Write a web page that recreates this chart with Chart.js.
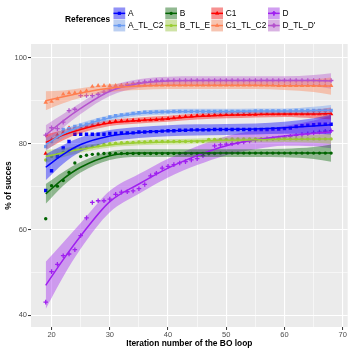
<!DOCTYPE html>
<html><head><meta charset="utf-8">
<script src="https://cdn.jsdelivr.net/npm/chart.js@4/dist/chart.umd.min.js"></script>
<style>html,body{margin:0;padding:0;background:#fff;}canvas{display:block;}</style>
</head><body>
<canvas id="c" width="353" height="353"></canvas>
<script>
// ---------- data ----------
const iterations = [19,20,21,22,23,24,25,26,27,28,29,30,31,32,33,34,35,36,37,38,39,40,41,42,43,44,45,46,47,48,49,50,51,52,53,54,55,56,57,58,59,60,61,62,63,64,65,66,67,68];
const seriesNames = ['A','A_TL_C2','B','B_TL_E','C1','C1_TL_C2','D',"D_TL_D'"];

const valA = [69.1,73.7,77.0,79.0,80.5,82.2,82.2,82.2,82.2,82.2,
              82.2,82.4,82.4,82.5,82.5,82.5,82.7,82.7,82.8,82.8,
              82.9,83.0,83.0,83.1,83.1,83.2,83.2,83.2,83.2,83.3,
              83.3,83.3,83.3,83.3,83.3,83.3,83.3,83.3,83.3,83.4,
              83.4,83.5,83.6,84.0,84.2,84.3,84.4,84.5,84.5,84.5];
const valA_TL_C2 = [79.3,80.5,81.5,83.3,83.5,84.0,84.3,84.5,85.0,85.5,
              85.8,86.2,86.5,86.7,86.8,87.0,87.2,87.3,87.3,87.4,
              87.4,87.4,87.5,87.5,87.5,87.5,87.5,87.5,87.5,87.5,
              87.5,87.5,87.5,87.5,87.5,87.5,87.6,87.6,87.6,87.6,
              87.6,87.6,87.6,87.7,87.7,87.7,87.7,87.7,87.7,87.7];
const valB = [62.5,70.2,70.1,71.4,73.3,75.5,77.0,77.3,77.5,77.6,
              77.7,77.7,77.7,77.7,77.7,77.7,77.7,77.7,77.7,77.7,
              77.7,77.7,77.7,77.7,77.7,77.7,77.7,77.7,77.7,77.7,
              77.8,77.8,77.8,77.8,77.8,77.8,77.8,77.8,77.8,77.8,
              77.8,77.8,77.8,77.8,77.8,77.8,77.8,77.8,77.8,77.8];
const valB_TL_E = [76.2,77.0,77.5,78.0,78.3,78.6,78.8,79.0,79.3,79.5,
              79.8,80.0,80.1,80.2,80.3,80.3,80.4,80.4,80.5,80.5,
              80.5,80.5,80.5,80.5,80.5,80.5,80.5,80.5,81.0,81.0,
              81.0,81.0,81.1,81.1,81.1,81.1,81.1,81.1,81.1,81.1,
              81.1,81.1,81.1,81.1,81.1,81.1,81.1,81.1,81.1,81.1];
const valC1 = [77.7,81.0,82.0,82.6,83.6,83.6,83.8,84.0,84.3,84.5,
              84.8,85.0,85.2,85.3,85.3,85.4,85.4,85.5,85.5,85.6,
              85.7,85.8,86.0,86.2,86.3,86.4,86.5,86.6,86.6,86.7,
              86.7,86.8,86.8,86.8,86.8,86.8,86.8,86.9,86.9,86.9,
              86.9,86.9,86.9,86.9,86.9,86.9,86.9,86.9,86.9,86.9];
const valC1_TL_C2 = [89.6,89.8,90.4,91.5,91.8,91.8,92.0,92.3,93.3,93.5,
              93.5,93.5,93.5,93.5,93.6,93.6,93.6,93.6,93.6,93.6,
              93.6,93.6,93.6,93.6,93.6,93.6,93.6,93.6,93.6,93.6,
              93.6,93.6,93.6,93.6,93.6,93.6,93.6,93.6,93.6,93.6,
              93.5,93.5,93.5,93.5,93.5,93.5,93.5,93.5,93.5,93.5];
const valD = [43.1,50.2,51.9,53.9,54.3,55.3,58.6,62.7,66.3,66.7,
              66.7,67.1,68.2,68.7,68.8,69.0,69.5,70.5,72.5,73.1,
              74.3,74.7,75.1,75.5,75.8,76.2,76.5,77.2,77.8,79.5,
              79.7,79.9,80.0,80.2,80.4,80.6,80.8,81.0,81.1,81.2,
              81.3,81.5,81.7,81.9,82.1,82.3,82.5,82.7,82.9,83.0];
const valD_TL_D = [82.0,83.7,83.5,85.0,87.7,88.0,91.2,91.2,91.2,91.5,
              92.0,92.5,93.0,93.5,93.8,94.0,94.2,94.4,94.5,94.7,
              94.7,94.7,94.7,94.7,94.7,94.7,94.7,94.7,94.7,94.7,
              94.7,94.7,94.7,94.7,94.7,94.7,94.7,94.7,94.7,94.7,
              94.7,94.7,94.7,94.7,94.7,94.7,94.7,94.7,94.7,94.7];

// smoothed fit at these iterations, and half-width of its band
const fitX = [19,22,25,30,35,40,45,50,55,60,65,68];
const fitA        = [74.5,77.5,79.8,81.8,82.6,83.0,83.2,83.3,83.4,83.7,84.1,84.4];
const bandA       = [3.0,2.2,1.7,1.4,1.3,1.3,1.3,1.3,1.3,1.4,1.8,2.3];
const fitA_TL_C2  = [79.8,82.3,84.0,86.0,87.0,87.4,87.5,87.5,87.6,87.6,87.7,87.8];
const bandA_TL_C2 = [1.5,1.0,0.8,0.6,0.6,0.6,0.6,0.6,0.6,0.6,0.9,1.2];
const fitB        = [68.3,71.8,74.5,77.2,77.8,77.8,77.8,77.8,77.8,77.8,77.8,77.8];
const bandB       = [2.3,1.6,1.2,1.0,0.9,0.9,0.9,0.9,0.9,1.0,1.4,2.0];
const fitB_TL_E   = [77.0,77.9,78.7,79.7,80.2,80.4,80.6,80.8,80.9,81.0,81.1,81.1];
const bandB_TL_E  = [1.5,1.0,0.8,0.6,0.6,0.6,0.6,0.6,0.6,0.6,0.9,1.2];
const fitC1       = [80.3,82.0,83.3,84.8,85.4,85.8,86.3,86.6,86.8,86.9,86.9,87.0];
const bandC1      = [1.8,1.2,0.9,0.7,0.7,0.7,0.7,0.7,0.7,0.7,1.0,1.4];
const fitC1_TL_C2 = [90.0,90.9,91.8,92.9,93.4,93.6,93.6,93.6,93.6,93.5,93.5,93.4];
const bandC1_TL_C2= [2.2,1.5,1.1,0.9,0.9,0.9,0.9,0.9,0.9,1.0,1.5,2.0];
const fitD        = [47.0,53.0,58.5,66.5,70.6,74.3,77.2,79.5,80.9,81.8,82.4,82.7];
const bandD       = [5.5,4.0,3.0,2.5,2.3,2.2,2.2,2.2,2.2,2.3,3.0,3.8];
const fitD_TL_D   = [82.0,85.3,88.2,92.2,94.0,94.6,94.7,94.7,94.7,94.7,94.7,94.6];
const bandD_TL_D  = [2.3,1.6,1.3,1.1,1.0,1.0,1.0,1.0,1.0,1.0,1.3,1.8];

const xTicks = [20,25,30,35,40,45,50,55,60,65,70];
const yTicks = [40,50,60,70,80,90,100];

// ---------- styles ----------
const styles = [
  {color:'#0000FF', rgb:'0,0,255',     shape:'rect',     r:2.4},
  {color:'#6A9CF2', rgb:'106,156,242', shape:'rect',     r:2.4},
  {color:'#006400', rgb:'0,100,0',     shape:'circle',   r:1.7},
  {color:'#9ACD32', rgb:'154,205,50',  shape:'circle',   r:1.7},
  {color:'#FF0000', rgb:'255,0,0',     shape:'triangle', r:2.6},
  {color:'#FF7F50', rgb:'255,127,80',  shape:'triangle', r:2.6},
  {color:'#A020F0', rgb:'160,32,240',  shape:'cross',    r:2.3},
  {color:'#B452CD', rgb:'180,82,205',  shape:'cross',    r:2.3}
];
const values = [valA,valA_TL_C2,valB,valB_TL_E,valC1,valC1_TL_C2,valD,valD_TL_D];
const fits   = [fitA,fitA_TL_C2,fitB,fitB_TL_E,fitC1,fitC1_TL_C2,fitD,fitD_TL_D];
const bands  = [bandA,bandA_TL_C2,bandB,bandB_TL_E,bandC1,bandC1_TL_C2,bandD,bandD_TL_D];

const datasets = [];
seriesNames.forEach((name,k)=>{
  const s = styles[k];
  datasets.push({
    label:name, data: iterations.map((x,i)=>({x:x,y:values[k][i]})),
    showLine:false, pointStyle:s.shape, pointRadius:s.r,
    pointBackgroundColor:s.color, pointBorderColor:s.color,
    pointBorderWidth: s.shape==='cross'?1.3:0, order:3
  });
});
seriesNames.forEach((name,k)=>{
  const s = styles[k];
  const up = datasets.length;
  datasets.push({
    label:name+' upper', data: fitX.map((x,i)=>({x:x,y:fits[k][i]+bands[k][i]})),
    borderWidth:0, pointRadius:0, fill:false, cubicInterpolationMode:'monotone', order:2
  });
  datasets.push({
    label:name+' lower', data: fitX.map((x,i)=>({x:x,y:fits[k][i]-bands[k][i]})),
    borderWidth:0, pointRadius:0, fill:{target:up}, backgroundColor:'rgba('+s.rgb+',0.4)',
    cubicInterpolationMode:'monotone', order:2
  });
});
seriesNames.forEach((name,k)=>{
  const s = styles[k];
  datasets.push({
    label:name+' fit', data: fitX.map((x,i)=>({x:x,y:fits[k][i]})),
    borderColor:s.color, borderWidth:1.5, pointRadius:0, fill:false,
    cubicInterpolationMode:'monotone', order:1
  });
});

const FONT = "'Liberation Sans', Arial, sans-serif";

const bgPlugin = {
  id:'panelBg',
  beforeDraw(chart){
    const {ctx, chartArea:a} = chart;
    ctx.save(); ctx.fillStyle='#EBEBEB';
    ctx.fillRect(a.left, a.top, a.right-a.left, a.bottom-a.top);
    ctx.restore();
  }
};

const legendPlugin = {
  id:'ggLegend',
  afterDraw(chart){
    const ctx = chart.ctx;
    ctx.save();
    ctx.font = 'bold 8.4px ' + FONT;
    ctx.fillStyle = '#000'; ctx.textBaseline='middle'; ctx.textAlign='left';
    ctx.fillText('References', 65, 19.5);
    const colX = [113.5, 165.3, 211.3, 268];
    const rowY = [7.5, 19.7];
    const kw = 11.7, kh = 11.7;
    seriesNames.forEach((name,k)=>{
      const s = styles[k];
      const x = colX[Math.floor(k/2)], y = rowY[k%2];
      ctx.fillStyle = '#F2F2F2'; ctx.fillRect(x,y,kw,kh);
      ctx.fillStyle = 'rgba('+s.rgb+',0.4)'; ctx.fillRect(x,y,kw,kh);
      ctx.strokeStyle = s.color; ctx.lineWidth = 1.5;
      ctx.beginPath(); ctx.moveTo(x, y+kh/2); ctx.lineTo(x+kw, y+kh/2); ctx.stroke();
      Chart.helpers.drawPoint(ctx, {pointStyle:s.shape, radius:s.r*0.9, borderWidth:s.shape==='cross'?1.2:0}, x+kw/2, y+kh/2);
      ctx.fillStyle = s.color;
      Chart.helpers.drawPoint(ctx, {pointStyle:s.shape, radius:s.r*0.9, borderWidth:s.shape==='cross'?1.2:0}, x+kw/2, y+kh/2);
      ctx.fillStyle = '#000'; ctx.font = '8.4px ' + FONT;
      ctx.fillText(name, x+kw+2.8, y+kh/2+0.5);
    });
    ctx.restore();
  }
};

new Chart(document.getElementById('c'), {
  type:'line',
  data:{datasets:datasets},
  plugins:[bgPlugin, legendPlugin],
  options:{
    responsive:false, animation:false, devicePixelRatio:1,
    layout:{padding:{left:0,right:3,top:44,bottom:0}},
    plugins:{legend:{display:false}, tooltip:{enabled:false}},
    elements:{line:{tension:0}},
    scales:{
      x:{
        type:'linear', min:16.47, max:70.85,
        afterBuildTicks:(s)=>{ s.ticks = xTicks.map(v=>({value:v})); },
        afterFit:(s)=>{ s.height = 26; },
        ticks:{ autoSkip:false, maxRotation:0, padding:0, color:'#4D4D4D',
          font:{family:FONT, size:7.5},
          callback:(v)=> (v%10===0 ? String(v) : '') },
        grid:{ color:'#FFFFFF', lineWidth:(c)=> (c.tick && c.tick.value%10===0 ? 1.1 : 0.55),
          drawTicks:true, tickLength:3, tickWidth:1,
          tickColor:(c)=> (c.tick && c.tick.value%10===0 ? '#333333' : 'rgba(0,0,0,0)') },
        border:{display:false},
        title:{display:true, text:'Iteration number of the BO loop', color:'#000',
          font:{family:FONT, size:8.4, weight:'bold'}, padding:{top:0,bottom:4}}
      },
      y:{
        type:'linear', min:37.3, max:103.2,
        afterBuildTicks:(s)=>{ s.ticks = yTicks.map(v=>({value:v})); },
        afterFit:(s)=>{ s.width = 31; },
        ticks:{ autoSkip:false, padding:1, color:'#4D4D4D',
          font:{family:FONT, size:7.5},
          callback:(v)=> (v%20===0 ? String(v) : '') },
        grid:{ color:'#FFFFFF', lineWidth:(c)=> (c.tick && c.tick.value%20===0 ? 1.1 : 0.55),
          drawTicks:true, tickLength:3, tickWidth:1,
          tickColor:(c)=> (c.tick && c.tick.value%20===0 ? '#333333' : 'rgba(0,0,0,0)') },
        border:{display:false},
        title:{display:true, text:'% of succes', color:'#000',
          font:{family:FONT, size:8.4, weight:'bold'}, padding:{top:3.5,bottom:0}}
      }
    }
  }
});
</script>
</body></html>
